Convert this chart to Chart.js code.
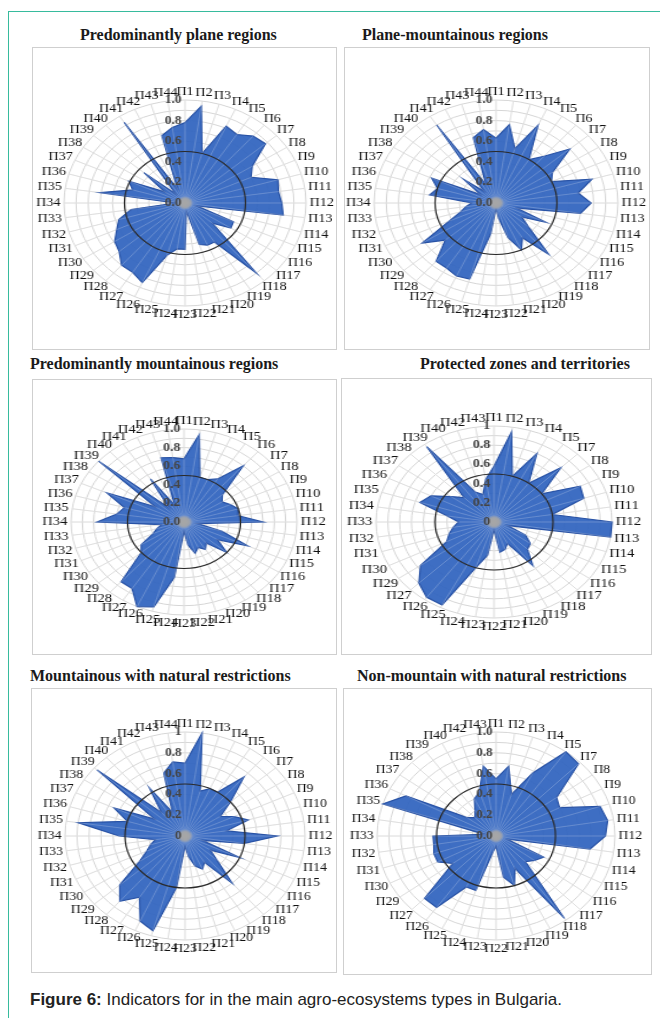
<!DOCTYPE html>
<html>
<head>
<meta charset="utf-8">
<script src="https://cdn.jsdelivr.net/npm/chart.js@4.4.1/dist/chart.umd.min.js"></script>
<style>
  html, body { margin: 0; padding: 0; background: #fff; }
  body { width: 660px; height: 1018px; position: relative; overflow: hidden; }
  .frame-top { position: absolute; left: 8px; top: 11px; width: 652px; border-top: 1.5px solid #37bb9d; }
  .frame-left { position: absolute; left: 8px; top: 11px; height: 1007px; border-left: 1.5px solid #37bb9d; }
  .title { position: absolute; font: bold 16px "Liberation Serif", serif; color: #1a1a1a; white-space: nowrap; line-height: 18px; }
  .box { position: absolute; border: 1px solid #cfcfcf; box-sizing: border-box; background: #fff; }
  .wrap { position: absolute; transform-origin: 50% 50%; }
  .wrap canvas { display: block; }
  .caption { position: absolute; left: 30px; top: 990px; font: 17px "Liberation Sans", Arial, sans-serif; color: #222; white-space: nowrap; line-height: 20px; }
</style>
</head>
<body>
<div class="frame-top"></div>
<div class="frame-left"></div>

<div class="title" style="left:80px; top:26px;">Predominantly plane regions</div>
<div class="title" style="left:362px; top:26px;">Plane-mountainous regions</div>
<div class="title" style="left:30px; top:355px;">Predominantly mountainous regions</div>
<div class="title" style="left:420px; top:355px;">Protected zones and territories</div>
<div class="title" style="left:30px; top:667px;">Mountainous with natural restrictions</div>
<div class="title" style="left:357px; top:667px;">Non-mountain with natural restrictions</div>

<div class="box" style="left:32px; top:47px; width:305px; height:303px;"></div>
<div class="box" style="left:344px; top:47px; width:306px; height:303px;"></div>
<div class="box" style="left:32px; top:379px; width:305px; height:276px;"></div>
<div class="box" style="left:341px; top:378px; width:311px; height:277px;"></div>
<div class="box" style="left:31px; top:688px; width:306px; height:285px;"></div>
<div class="box" style="left:343px; top:688px; width:309px; height:287px;"></div>

<div class="caption"><b>Figure 6:</b> Indicators for in the main agro-ecosystems types in Bulgaria.</div>

<script>
// categories
const labels44 = 'П1 П2 П3 П4 П5 П6 П7 П8 П9 П10 П11 П12 П13 П14 П15 П16 П17 П18 П19 П20 П21 П22 П23 П24 П25 П26 П27 П28 П29 П30 П31 П32 П33 П34 П35 П36 П37 П38 П39 П40 П41 П42 П43 П44'.split(' ');
const labels40 = 'П1 П2 П3 П4 П5 П7 П8 П9 П10 П11 П12 П13 П14 П15 П16 П17 П18 П19 П20 П21 П22 П23 П24 П25 П26 П27 П29 П30 П31 П32 П33 П34 П35 П36 П37 П38 П39 П40 П42 П43'.split(' ');

// radial tick labels
const tickValues = [0, 0.2, 0.4, 0.6, 0.8, 1.0];
const ticksDec = ['0.0', '0.2', '0.4', '0.6', '0.8', '1.0'];
const ticksInt = ['0', '0.2', '0.4', '0.6', '0.8', '1'];
const threshold = 0.5;

// series values
const planeRegions = [0.78, 0.95, 0.5, 0.82, 0.79, 0.86, 0.88, 0.66, 0.6, 0.8, 0.78, 0.8, 0.82, 0.1, 0.44, 0.45, 0.3, 0.9, 0.45, 0.45, 0.42, 0.08,
  0.45, 0.45, 0.53, 0.85, 0.8, 0.8, 0.72, 0.69, 0.62, 0.57, 0.45, 0.08, 0.71, 0.45, 0.51, 0.2, 0.45, 0.12, 0.93, 0.15, 0.68, 0.74];
const planeMountainous = [0.63, 0.77, 0.55, 0.83, 0.5, 0.6, 0.8, 0.55, 0.5, 0.82, 0.68, 0.78, 0.7, 0.18, 0.45, 0.25, 0.35, 0.66, 0.4, 0.5, 0.35, 0.15,
  0.05, 0.3, 0.77, 0.78, 0.75, 0.75, 0.55, 0.72, 0.42, 0.3, 0.25, 0.2, 0.55, 0.5, 0.58, 0.15, 0.35, 0.15, 0.9, 0.2, 0.66, 0.72];
const mountainous = [0.68, 0.95, 0.5, 0.5, 0.55, 0.8, 0.45, 0.4, 0.45, 0.5, 0.48, 0.7, 0.12, 0.35, 0.62, 0.35, 0.5, 0.3, 0.35, 0.3, 0.35, 0.25,
  0.1, 0.6, 0.95, 1.0, 0.85, 0.85, 0.5, 0.45, 0.3, 0.25, 0.2, 0.77, 0.6, 0.55, 0.75, 0.3, 1.0, 0.2, 0.55, 0.2, 0.72, 0.7];
const protectedZones = [0.58, 0.95, 0.5, 0.8, 0.5, 0.8, 0.5, 0.82, 0.8, 0.5, 1.0, 1.0, 0.12, 0.3, 0.38, 0.4, 0.56, 0.25, 0.3, 0.32,
  0.08, 0.35, 0.5, 0.97, 0.97, 0.9, 0.77, 0.45, 0.4, 0.35, 0.3, 0.4, 0.66, 0.6, 0.45, 0.36, 0.97, 0.35, 0.3, 0.45];
const mountRestricted = [0.7, 1.0, 0.45, 0.5, 0.5, 0.75, 0.5, 0.35, 0.45, 0.55, 0.35, 0.77, 0.5, 0.15, 0.5, 0.25, 0.35, 0.6, 0.3, 0.35, 0.3, 0.2,
  0.1, 0.5, 0.95, 0.9, 0.7, 0.83, 0.72, 0.45, 0.35, 0.3, 0.25, 0.55, 0.9, 0.5, 0.65, 0.3, 0.97, 0.3, 0.55, 0.25, 0.63, 0.72];
const nonMountRestricted = [0.55, 0.68, 0.42, 0.68, 1.0, 0.98, 0.63, 0.6, 0.92, 0.95, 0.92, 0.8, 0.1, 0.45, 0.4, 0.35, 0.98, 0.35, 0.5, 0.4,
  0.1, 0.15, 0.55, 0.55, 0.85, 0.85, 0.45, 0.55, 0.55, 0.53, 0.53, 0.1, 1.0, 0.85, 0.3, 0.25, 0.3, 0.4, 0.45, 0.68];

// where each radar sits on the page (centre, vertical radius, horizontal radius)
const panels = [
  { labels: labels44, values: planeRegions,       ticks: ticksDec, cx: 185, cy: 203, ry: 103, rx: 121 },
  { labels: labels44, values: planeMountainous,   ticks: ticksDec, cx: 496, cy: 203, ry: 103, rx: 122 },
  { labels: labels44, values: mountainous,        ticks: ticksDec, cx: 184, cy: 522, ry: 93,  rx: 113 },
  { labels: labels40, values: protectedZones,     ticks: ticksInt, cx: 494, cy: 522, ry: 96,  rx: 118 },
  { labels: labels44, values: mountRestricted,    ticks: ticksInt, cx: 185, cy: 836, ry: 104, rx: 120 },
  { labels: labels40, values: nonMountRestricted, ticks: ticksDec, cx: 496, cy: 836, ry: 104, rx: 119 }
];

const PAD = 30;

// draws what Excel puts on top of the area: light spokes, the 0.5 ring, hub, texts
const radarText = {
  id: 'radarText',
  afterDatasetsDraw(chart, args, opts) {
    const r = chart.scales.r;
    const ctx = chart.ctx;
    const n = chart.data.labels.length;
    const outer = r.getDistanceFromCenterForValue(1);
    ctx.save();
    ctx.strokeStyle = 'rgba(255,255,255,0.22)';
    ctx.lineWidth = 1;
    for (let i = 0; i < n; i++) {
      const p = r.getPointPosition(i, outer);
      ctx.beginPath();
      ctx.moveTo(r.xCenter, r.yCenter);
      ctx.lineTo(p.x, p.y);
      ctx.stroke();
    }
    ctx.strokeStyle = '#2a2a2a';
    ctx.lineWidth = 1.2;
    ctx.beginPath();
    ctx.arc(r.xCenter, r.yCenter, r.getDistanceFromCenterForValue(opts.threshold), 0, Math.PI * 2);
    ctx.stroke();

    const g = ctx.createRadialGradient(r.xCenter, r.yCenter, 0, r.xCenter, r.yCenter, 7);
    g.addColorStop(0, 'rgba(165,165,165,1)');
    g.addColorStop(0.6, 'rgba(165,165,165,0.9)');
    g.addColorStop(1, 'rgba(165,165,165,0)');
    ctx.fillStyle = g;
    ctx.beginPath();
    ctx.arc(r.xCenter, r.yCenter, 7, 0, Math.PI * 2);
    ctx.fill();

    ctx.font = 'bold 11.5px "Liberation Serif"';
    ctx.fillStyle = '#444';
    ctx.textAlign = 'right';
    ctx.textBaseline = 'middle';
    opts.values.forEach((v, i) => {
      ctx.fillText(opts.labels[i], r.xCenter - 3, r.yCenter - r.getDistanceFromCenterForValue(v));
    });

    ctx.font = '12px "Liberation Serif"';
    ctx.fillStyle = '#111';
    ctx.textAlign = 'center';
    chart.data.labels.forEach((lab, i) => {
      const a = r.getIndexAngle(i);
      const p = r.getPointPosition(i, outer + 3);
      const w = ctx.measureText(lab).width;
      ctx.fillText(lab, p.x + Math.sin(a) * w / 2, p.y - Math.cos(a) * 5.5);
    });
    ctx.restore();
  }
};

panels.forEach(pn => {
  const size = 2 * pn.ry + 2 * PAD;
  const wrap = document.createElement('div');
  wrap.className = 'wrap';
  wrap.style.left = (pn.cx - size / 2) + 'px';
  wrap.style.top = (pn.cy - size / 2) + 'px';
  wrap.style.width = size + 'px';
  wrap.style.height = size + 'px';
  wrap.style.transform = 'scaleX(' + (pn.rx / pn.ry).toFixed(3) + ')';
  const canvas = document.createElement('canvas');
  canvas.width = size;
  canvas.height = size;
  wrap.appendChild(canvas);
  document.body.appendChild(wrap);

  new Chart(canvas, {
    type: 'radar',
    data: {
      labels: pn.labels,
      datasets: [{
        data: pn.values,
        backgroundColor: 'rgba(52,102,192,0.95)',
        borderColor: 'rgba(40,82,165,1)',
        borderWidth: 1.2,
        pointRadius: 0,
        fill: true
      }]
    },
    options: {
      responsive: false,
      animation: false,
      layout: { padding: PAD },
      plugins: {
        legend: { display: false },
        tooltip: { enabled: false },
        radarText: { labels: pn.ticks, values: tickValues, threshold: threshold }
      },
      scales: {
        r: {
          min: 0,
          max: 1,
          ticks: { display: false, stepSize: 0.1 },
          pointLabels: { display: false },
          grid: { circular: true, color: '#d6d6d6', lineWidth: 1 },
          angleLines: { color: '#d6d6d6', lineWidth: 1 }
        }
      }
    },
    plugins: [radarText]
  });
});
</script>
</body>
</html>
